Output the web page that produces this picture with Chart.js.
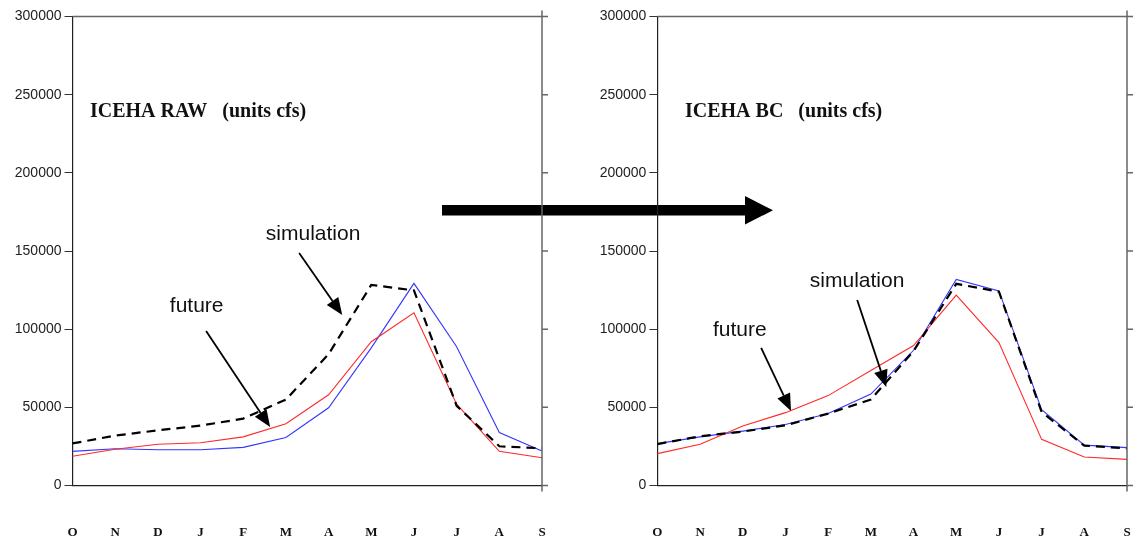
<!DOCTYPE html>
<html>
<head>
<meta charset="utf-8">
<script src="https://cdn.jsdelivr.net/npm/chart.js@4.4.1/dist/chart.umd.min.js"></script>
<style>
  html, body { margin: 0; padding: 0; background: #fff; }
  #wrap { position: relative; width: 1136px; height: 540px; overflow: hidden; }
  #bigArrow, #rawChart, #bcChart { position: absolute; top: 0; }
  #bigArrow { left: 0; }
  #rawChart { left: 0; }
  #bcChart  { left: 560px; }
</style>
</head>
<body>
<div id="wrap">
  <!-- the fat arrow between the two panels sits under the charts -->
  <svg id="bigArrow" width="1136" height="540">
    <rect x="442" y="205" width="305" height="10.5" fill="#000"/>
    <polygon points="745,196 773,210.3 745,224.5" fill="#000"/>
  </svg>
  <canvas id="rawChart" width="560" height="540"></canvas>
  <canvas id="bcChart" width="576" height="540"></canvas>
</div>

<script>
// ─── DATA ────────────────────────────────────────────
const months = ['O','N','D','J','F','M','A','M','J','J','A','S'];
const yTicks = [0, 50000, 100000, 150000, 200000, 250000, 300000];

// ICEHA RAW
const rawObserved   = [21800, 23500, 22900, 22900, 24400, 30700, 49700, 88000, 129300, 88800, 33900, 22000];
const rawSimulation = [26900, 31900, 35300, 38300, 42800, 55000, 84000, 128300, 124800, 51000, 25100, 23800];
const rawFuture     = [18700, 23200, 26400, 27300, 31100, 39500, 58000, 92000, 110500, 52000, 21900, 17800];

// ICEHA BC
const bcObserved   = [26800, 31100, 34800, 39000, 46100, 58500, 86500, 131800, 124500, 48500, 25800, 24200];
const bcSimulation = [26500, 31500, 34500, 38500, 46000, 55000, 86000, 129000, 124000, 47000, 25500, 23800];
const bcFuture     = [20400, 26400, 38000, 46600, 57500, 73500, 89500, 121800, 91400, 29500, 18200, 16700];


// ─── PLUGINS ─────────────────────────────────────────
// top + right frame with outward ticks on the right side
const framePlugin = {
  id: 'frame',
  afterDatasetsDraw(chart) {
    const { ctx, chartArea: a, scales: { y } } = chart;
    ctx.save();
    ctx.strokeStyle = '#666';
    ctx.lineWidth = 1.5;
    ctx.beginPath();
    ctx.moveTo(a.left, a.top);       ctx.lineTo(a.right + 6, a.top);
    ctx.moveTo(a.right, a.top - 6);  ctx.lineTo(a.right, a.bottom + 6);
    y.ticks.forEach(t => {
      const py = y.getPixelForValue(t.value);
      ctx.moveTo(a.right, py);
      ctx.lineTo(a.right + 6, py);
    });
    ctx.stroke();
    ctx.restore();
  }
};

// title, "simulation"/"future" labels and their arrows (placed in data units)
const notesPlugin = {
  id: 'notes',
  afterDraw(chart, args, opts) {
    const { ctx, chartArea: a, scales: { x, y } } = chart;
    const px = i => x.left + (x.right - x.left) * i / (months.length - 1);

    ctx.save();
    ctx.fillStyle = '#111';
    ctx.font = 'bold 20px "Liberation Serif", "Times New Roman", serif';
    ctx.textBaseline = 'alphabetic';
    ctx.fillText(opts.title, a.left + opts.titleDx, 117);

    ctx.font = '21px "Liberation Sans", Arial, sans-serif';
    opts.labels.forEach(l => ctx.fillText(l.text, px(l.at[0]), y.getPixelForValue(l.at[1])));

    ctx.strokeStyle = '#000';
    ctx.fillStyle = '#000';
    ctx.lineWidth = 1.8;
    opts.arrows.forEach(ar => {
      const x0 = px(ar.from[0]), y0 = y.getPixelForValue(ar.from[1]);
      const x1 = px(ar.to[0]),   y1 = y.getPixelForValue(ar.to[1]);
      const ang = Math.atan2(y1 - y0, x1 - x0);
      const head = 17, half = 7;
      const bx = x1 - head * Math.cos(ang), by = y1 - head * Math.sin(ang);
      ctx.beginPath();
      ctx.moveTo(x0, y0);
      ctx.lineTo(bx, by);
      ctx.stroke();
      ctx.beginPath();
      ctx.moveTo(x1, y1);
      ctx.lineTo(bx + half * Math.sin(ang), by - half * Math.cos(ang));
      ctx.lineTo(bx - half * Math.sin(ang), by + half * Math.cos(ang));
      ctx.closePath();
      ctx.fill();
    });
    ctx.restore();
  }
};


// ─── CHART FACTORY ───────────────────────────────────
function makePanel(canvasId, series, cfg) {
  const [observed, simulation, future] = series;
  return new Chart(document.getElementById(canvasId), {
    type: 'line',
    data: {
      labels: months,
      datasets: [
        { label: 'simulation', data: simulation, borderColor: '#000', borderWidth: 2.2,
          borderDash: [9, 6], pointRadius: 0, tension: 0, fill: false },
        { label: 'future', data: future, borderColor: '#ff2a2a', borderWidth: 1.1,
          pointRadius: 0, tension: 0, fill: false },
        { label: 'observed', data: observed, borderColor: '#3535ff', borderWidth: 1.1,
          pointRadius: 0, tension: 0, fill: false },
      ],
    },
    options: {
      responsive: false,
      animation: false,
      layout: { padding: { top: 16.5, right: cfg.padRight, left: 0, bottom: 0 } },
      plugins: {
        legend: { display: false },
        tooltip: { enabled: false },
        notes: cfg.notes,
      },
      scales: {
        x: {
          offset: false,
          grid: { display: false },
          border: { display: true, color: '#222', width: 1.2 },
          ticks: {
            color: '#111', padding: 31, maxRotation: 0, autoSkip: false,
            font: { family: '"Liberation Serif", "Times New Roman", serif', size: 13, weight: 'bold' },
          },
          // tick padding would otherwise eat into the right edge
          afterFit: s => { s.height = 54.5; s.paddingLeft = 0; s.paddingRight = 0; },
        },
        y: {
          min: 0, max: 300000,
          afterBuildTicks: s => { s.ticks = yTicks.map(v => ({ value: v })); },
          ticks: {
            color: '#222', padding: 3,
            font: { family: '"Liberation Sans", Arial, sans-serif', size: 14 },
            callback: v => String(v),
          },
          grid: { drawOnChartArea: false, tickLength: 8, color: '#333' },
          border: { color: '#222', width: 1.2 },
          afterFit: s => { s.width = cfg.yWidth; },
        },
      },
    },
    plugins: [framePlugin, notesPlugin],
  });
}

makePanel('rawChart', [rawObserved, rawSimulation, rawFuture], {
  yWidth: 72.5, padRight: 18,
  notes: {
    title: 'ICEHA RAW   (units cfs)', titleDx: 17.5,
    labels: [
      { text: 'simulation', at: [4.53, 156800] },
      { text: 'future',     at: [2.28, 111300] },
    ],
    arrows: [
      { from: [5.31, 148700], to: [6.32, 109100] },
      { from: [3.13, 98800],  to: [4.63, 37400] },
    ],
  },
});

makePanel('bcChart', [bcObserved, bcSimulation, bcFuture], {
  yWidth: 97.4, padRight: 9,
  notes: {
    title: 'ICEHA BC   (units cfs)', titleDx: 27.6,
    labels: [
      { text: 'simulation', at: [3.57, 127000] },
      { text: 'future',     at: [1.30, 95800] },
    ],
    arrows: [
      { from: [4.68, 118700], to: [5.36, 63000] },
      { from: [2.43, 88000],  to: [3.13, 47700] },
    ],
  },
});
</script>
</body>
</html>
